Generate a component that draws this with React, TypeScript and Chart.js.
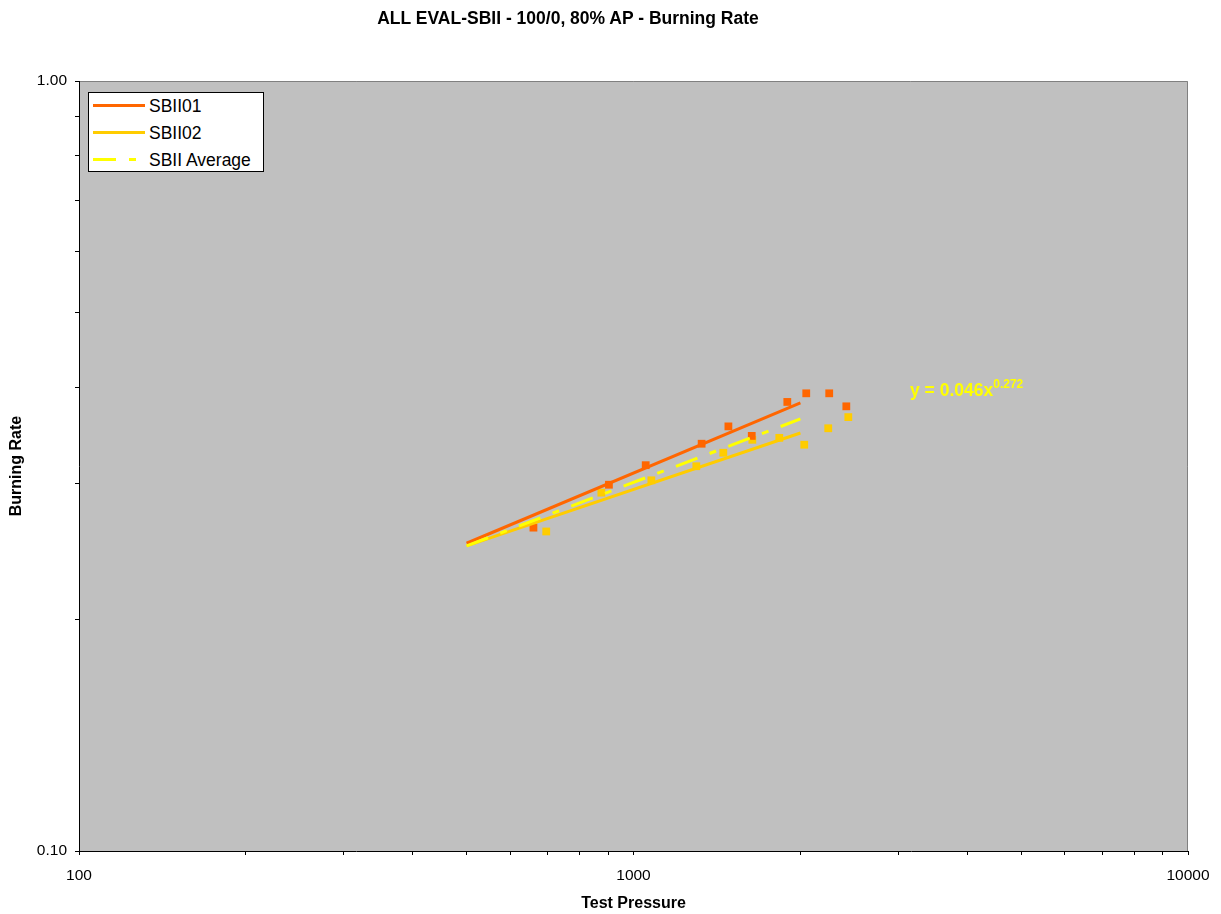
import React, { useEffect, useRef } from "react";
import { Chart, registerables } from "chart.js";

Chart.register(...registerables);

const chartTitle = "ALL EVAL-SBII - 100/0, 80% AP - Burning Rate";
const xAxisTitle = "Test Pressure";
const yAxisTitle = "Burning Rate";
const seriesNames = ["SBII01", "SBII02", "SBII Average"];
const seriesColors = ["#FF6600", "#FFCC00", "#FFFF00"];
const avgDash = [23, 13, 7, 13];

// measured points
const pressures01 = [660, 903, 1052, 1327, 1483, 1634, 1894, 2049, 2254, 2420];
const rates01 = [0.263, 0.299, 0.317, 0.338, 0.356, 0.346, 0.383, 0.393, 0.393, 0.378];
const pressures02 = [696, 875, 1077, 1298, 1452, 1638, 1832, 2032, 2245, 2440];
const rates02 = [0.26, 0.292, 0.303, 0.316, 0.329, 0.342, 0.344, 0.337, 0.354, 0.366];

// power-law trend lines (end points)
const trendPressures = [500, 2000];
const trend01 = [0.251, 0.382];
const trend02 = [0.249, 0.349];
const trendAvg = [0.249, 0.364];

const equationBase = "y = 0.046x";
const equationExp = "0.272";

const xTickValues = [100, 200, 300, 400, 500, 600, 700, 800, 900, 1000, 2000, 3000, 4000, 5000, 6000, 7000, 8000, 9000, 10000];
const xLabeledTicks = [100, 1000, 10000];
const yTickValues = [0.1, 0.2, 0.3, 0.4, 0.5, 0.6, 0.7, 0.8, 0.9, 1.0];
const yLabeledTicks = [0.1, 1.0];

const FONT = "'Liberation Sans', Arial, Helvetica, sans-serif";

const toXY = (xs: number[], ys: number[]) => xs.map((x, i) => ({ x, y: ys[i] }));

const plotBg = {
  id: "plotBg",
  beforeDraw(chart: any) {
    const { ctx, chartArea } = chart;
    if (!chartArea) return;
    const { left, top, right, bottom } = chartArea;
    ctx.save();
    ctx.fillStyle = "#C0C0C0";
    ctx.fillRect(left, top, right - left, bottom - top);
    ctx.strokeStyle = "#808080";
    ctx.lineWidth = 1;
    ctx.beginPath();
    ctx.moveTo(left, top + 0.5);
    ctx.lineTo(right - 0.5, top + 0.5);
    ctx.lineTo(right - 0.5, bottom);
    ctx.stroke();
    ctx.restore();
  },
};

export default function App() {
  const ref = useRef<HTMLCanvasElement | null>(null);

  useEffect(() => {
    if (!ref.current) return;
    Chart.defaults.font.family = FONT;
    const chart = new Chart(ref.current, {
      type: "scatter",
      data: {
        datasets: [
          {
            label: seriesNames[2],
            data: toXY(trendPressures, trendAvg),
            showLine: true,
            borderColor: seriesColors[2],
            borderWidth: 3,
            borderDash: avgDash,
            pointRadius: 0,
          },
          {
            label: seriesNames[0],
            data: toXY(trendPressures, trend01),
            showLine: true,
            borderColor: seriesColors[0],
            borderWidth: 3,
            pointRadius: 0,
          },
          {
            label: seriesNames[1],
            data: toXY(trendPressures, trend02),
            showLine: true,
            borderColor: seriesColors[1],
            borderWidth: 3,
            pointRadius: 0,
          },
          {
            label: seriesNames[0] + " data",
            data: toXY(pressures01, rates01),
            pointStyle: "rect",
            pointRadius: 5.5,
            pointBorderWidth: 0,
            pointBackgroundColor: seriesColors[0],
            backgroundColor: seriesColors[0],
            borderColor: seriesColors[0],
            showLine: false,
          },
          {
            label: seriesNames[1] + " data",
            data: toXY(pressures02, rates02),
            pointStyle: "rect",
            pointRadius: 5.5,
            pointBorderWidth: 0,
            pointBackgroundColor: seriesColors[1],
            backgroundColor: seriesColors[1],
            borderColor: seriesColors[1],
            showLine: false,
          },
        ],
      },
      options: {
        responsive: false,
        animation: false,
        events: [],
        layout: { padding: { top: 81, right: 33, left: 0, bottom: 0 } },
        plugins: {
          legend: { display: false },
          title: { display: false },
          tooltip: { enabled: false },
        },
        scales: {
          x: {
            type: "logarithmic",
            position: "bottom",
            min: 100,
            max: 10000,
            afterBuildTicks: (scale: any) => {
              scale.ticks = xTickValues.map((v) => ({ value: v }));
            },
            afterFit: (scale: any) => {
              scale.height = 63;
            },
            ticks: {
              autoSkip: false,
              maxRotation: 0,
              minRotation: 0,
              padding: 11,
              color: "#000",
              font: { size: 15.5, family: FONT },
              callback: (value: any) => (xLabeledTicks.includes(Number(value)) ? String(value) : ""),
            },
            grid: { drawOnChartArea: false, drawTicks: true, tickLength: 4, color: "#000", lineWidth: 1 },
            border: { display: true, color: "#000", width: 1 },
            title: {
              display: true,
              text: xAxisTitle,
              color: "#000",
              font: { size: 16, weight: "bold", family: FONT },
              padding: { top: 0, bottom: 1 },
            },
          },
          y: {
            type: "logarithmic",
            position: "left",
            min: 0.1,
            max: 1,
            afterBuildTicks: (scale: any) => {
              scale.ticks = yTickValues.map((v) => ({ value: v }));
            },
            afterFit: (scale: any) => {
              scale.width = 79;
            },
            ticks: {
              autoSkip: false,
              padding: 8,
              color: "#000",
              font: { size: 15.5, family: FONT },
              callback: (value: any) => {
                const v = Number(value);
                return yLabeledTicks.some((t) => Math.abs(t - v) < 1e-9) ? v.toFixed(2) : "";
              },
            },
            grid: { drawOnChartArea: false, drawTicks: true, tickLength: 4, color: "#000", lineWidth: 1 },
            border: { display: true, color: "#000", width: 1 },
            title: {
              display: true,
              text: yAxisTitle,
              color: "#000",
              font: { size: 16, weight: "bold", family: FONT },
              padding: { top: 7, bottom: 0 },
            },
          },
        },
      },
      plugins: [plotBg],
    } as any);
    return () => chart.destroy();
  }, []);

  const legendRows = [0, 1, 2];

  return (
    <div style={{ position: "absolute", left: 0, top: 0, width: 1221, height: 914, background: "#fff", fontFamily: FONT }}>
      <canvas ref={ref} width={1221} height={914} style={{ display: "block", width: 1221, height: 914 }} />
      <div
        style={{
          position: "absolute",
          left: 0,
          width: 1136,
          top: 10,
          textAlign: "center",
          fontSize: 17.5,
          lineHeight: 1,
          fontWeight: "bold",
          color: "#000",
          whiteSpace: "nowrap",
        }}
      >
        {chartTitle}
      </div>
      <div
        style={{
          position: "absolute",
          left: 88,
          top: 92,
          width: 174,
          height: 78,
          background: "#fff",
          border: "1px solid #000",
        }}
      >
        {legendRows.map((i) => (
          <div key={i} style={{ position: "absolute", left: 0, top: 3 + i * 27, height: 20, width: 174 }}>
            <svg width={54} height={20} style={{ position: "absolute", left: 4, top: 0 }}>
              <line
                x1={0}
                y1={9.5}
                x2={52}
                y2={9.5}
                stroke={seriesColors[i]}
                strokeWidth={3}
                strokeDasharray={i === 2 ? avgDash.join(" ") : undefined}
              />
            </svg>
            <span
              style={{
                position: "absolute",
                left: 60,
                top: 0,
                fontSize: 17.5,
                lineHeight: "20px",
                color: "#000",
                whiteSpace: "nowrap",
              }}
            >
              {seriesNames[i]}
            </span>
          </div>
        ))}
      </div>
      <div
        style={{
          position: "absolute",
          left: 910,
          top: 382,
          fontSize: 17.5,
          lineHeight: 1,
          fontWeight: "bold",
          color: "#FFFF00",
          whiteSpace: "nowrap",
        }}
      >
        {equationBase}
        <span style={{ fontSize: 12, position: "relative", top: -8.5 }}>{equationExp}</span>
      </div>
    </div>
  );
}
